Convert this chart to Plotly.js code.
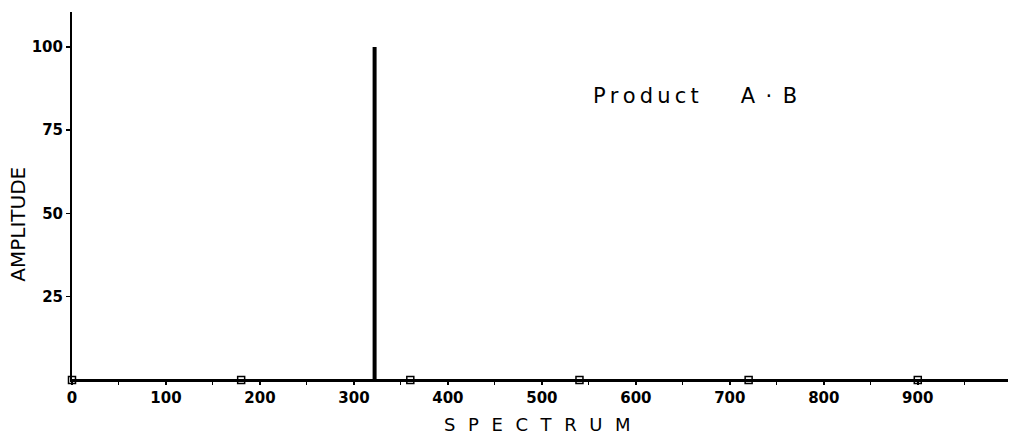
<!DOCTYPE html>
<html>
<head>
<meta charset="utf-8">
<script src="https://cdn.plot.ly/plotly-3.0.1.min.js"></script>
<style>html,body{margin:0;padding:0;background:#fff;}#chart{width:1010px;height:440px;}</style>
</head>
<body>
<div id="chart"></div>
<script>
// Spectrum line (baseline with one spike)
const spectrumX = [0, 322, 322, 322, 996];
const spectrumY = [0, 0, 100, 0, 0];
// Harmonic markers along the baseline
const markerX = [0, 180, 360, 540, 720, 900];
const markerY = [0, 0, 0, 0, 0, 0];
// Tick labels
const xTicks = [0, 100, 200, 300, 400, 500, 600, 700, 800, 900];
const yTicks = [25, 50, 75, 100];
const spaced = (s, sep) => s.split('').join(sep);
const productText = spaced('Product', '\u2009') + '\u2003\u2003' + 'A\u2002\u00b7\u2002B';
const xTitle = spaced('SPECTRUM', '\u2002\u2009');
const yTitle = 'AMPLITUDE';

const traces = [
  {x: spectrumX, y: spectrumY, mode: 'lines', line: {color: '#000', width: 2}, hoverinfo: 'none', cliponaxis: false},
  {x: [spectrumX[1], spectrumX[2]], y: [spectrumY[1], spectrumY[2]], mode: 'lines', line: {color: '#000', width: 4}, hoverinfo: 'none', cliponaxis: false},
  {x: markerX, y: markerY, mode: 'markers', marker: {symbol: 'square-open', size: 7, color: '#000', line: {width: 1.5, color: '#000'}}, hoverinfo: 'none', cliponaxis: false}
];

const layout = {
  width: 1010, height: 440,
  margin: {l: 72, r: 2, t: 12, b: 60},
  paper_bgcolor: '#fff', plot_bgcolor: '#fff',
  showlegend: false,
  font: {family: 'DejaVu Sans', color: '#000', size: 16},
  xaxis: {
    range: [0, 996], showgrid: false, zeroline: false,
    showline: true, linecolor: '#000', linewidth: 2,
    tickmode: 'array', tickvals: xTicks, ticktext: xTicks.map(String),
    ticks: 'outside', ticklen: 3, tickwidth: 1.5, tickcolor: '#000',
    minor: {dtick: 50, ticks: 'outside', ticklen: 3, tickwidth: 1, tickcolor: '#000'},
    tickfont: {family: 'DejaVu Sans', size: 15, weight: 'bold'}
  },
  yaxis: {
    range: [0, 110.5], showgrid: false, zeroline: false,
    showline: true, linecolor: '#000', linewidth: 2,
    tickmode: 'array', tickvals: yTicks, ticktext: yTicks.map(String),
    ticks: 'outside', ticklen: 4, tickwidth: 1.5, tickcolor: '#000',
    tickfont: {family: 'DejaVu Sans', size: 15, weight: 'bold'}
  },
  annotations: [
    {text: productText, xref: 'paper', yref: 'paper', x: 0.666, y: 0.773,
     xanchor: 'center', yanchor: 'middle', showarrow: false,
     font: {family: 'DejaVu Sans', size: 21, color: '#000'}},
    {text: xTitle, xref: 'paper', yref: 'paper', x: 0.497, y: -0.122,
     xanchor: 'center', yanchor: 'middle', showarrow: false,
     font: {family: 'DejaVu Sans', size: 18, color: '#000'}},
    {text: yTitle, xref: 'paper', yref: 'paper', x: -0.058, y: 0.424,
     xanchor: 'center', yanchor: 'middle', showarrow: false, textangle: -90,
     font: {family: 'DejaVu Sans', size: 20, color: '#000'}}
  ]
};

Plotly.newPlot('chart', traces, layout, {staticPlot: true, displayModeBar: false});
</script>
</body>
</html>
